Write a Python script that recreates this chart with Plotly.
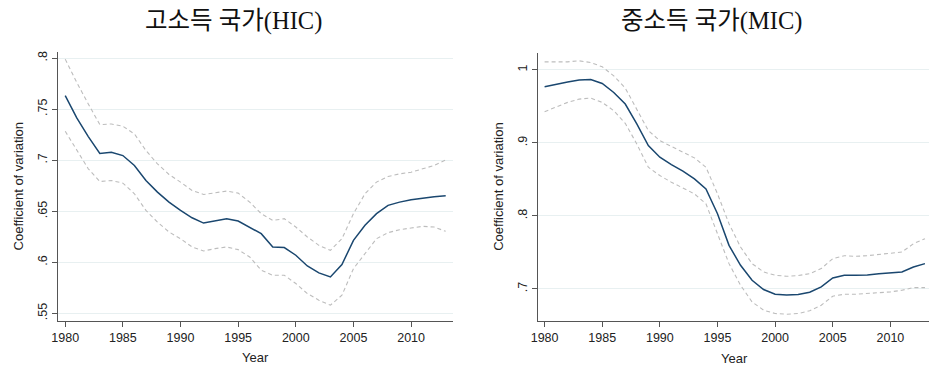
import plotly.graph_objects as go

W, H = 929, 367

years = list(range(1980, 2014))

# High-income countries: coefficient of variation with confidence band
hic_cv = [0.7632, 0.7414, 0.7232, 0.7066, 0.7079, 0.7046, 0.6949, 0.6802, 0.6688, 0.6590,
          0.6509, 0.6437, 0.6385, 0.6405, 0.6428, 0.6405, 0.6346, 0.6281, 0.6151, 0.6145,
          0.6070, 0.5965, 0.5897, 0.5858, 0.5979, 0.6216, 0.6363, 0.6477, 0.6558, 0.6590,
          0.6613, 0.6630, 0.6643, 0.6652]
hic_upper = [0.7990, 0.7762, 0.7551, 0.7349, 0.7355, 0.7333, 0.7258, 0.7095, 0.6965, 0.6861,
             0.6786, 0.6704, 0.6665, 0.6678, 0.6698, 0.6678, 0.6590, 0.6477, 0.6411, 0.6428,
             0.6346, 0.6249, 0.6167, 0.6118, 0.6232, 0.6477, 0.6672, 0.6786, 0.6841, 0.6867,
             0.6883, 0.6916, 0.6949, 0.7004]
hic_lower = [0.7284, 0.7095, 0.6916, 0.6792, 0.6802, 0.6776, 0.6672, 0.6509, 0.6395, 0.6298,
             0.6232, 0.6151, 0.6112, 0.6135, 0.6151, 0.6125, 0.6053, 0.5923, 0.5874, 0.5874,
             0.5793, 0.5695, 0.5630, 0.5581, 0.5679, 0.5939, 0.6086, 0.6232, 0.6291, 0.6320,
             0.6337, 0.6353, 0.6346, 0.6304]

# Middle-income countries
mic_cv = [0.9768, 0.9804, 0.9832, 0.9859, 0.9868, 0.9813, 0.9690, 0.9531, 0.9258, 0.8962,
          0.8803, 0.8703, 0.8612, 0.8507, 0.8370, 0.8029, 0.7596, 0.7323, 0.7118, 0.6991,
          0.6927, 0.6918, 0.6923, 0.6955, 0.7027, 0.7150, 0.7187, 0.7187, 0.7191, 0.7209,
          0.7219, 0.7232, 0.7300, 0.7346]
mic_upper = [1.0109, 1.0109, 1.0109, 1.0123, 1.0100, 1.0041, 0.9918, 0.9750, 0.9463, 0.9167,
             0.9030, 0.8948, 0.8871, 0.8794, 0.8666, 0.8302, 0.7892, 0.7574, 0.7346, 0.7232,
             0.7187, 0.7173, 0.7182, 0.7209, 0.7278, 0.7414, 0.7455, 0.7446, 0.7455, 0.7473,
             0.7483, 0.7505, 0.7619, 0.7687]
mic_lower = [0.9426, 0.9495, 0.9554, 0.9599, 0.9613, 0.9554, 0.9440, 0.9267, 0.8985, 0.8666,
             0.8552, 0.8461, 0.8384, 0.8302, 0.8165, 0.7756, 0.7346, 0.7050, 0.6822, 0.6709,
             0.6663, 0.6654, 0.6663, 0.6700, 0.6777, 0.6900, 0.6927, 0.6927, 0.6936, 0.6955,
             0.6959, 0.6982, 0.7018, 0.7018]

x_ticks = [1980, 1985, 1990, 1995, 2000, 2005, 2010]
hic_yticks = [0.55, 0.6, 0.65, 0.7, 0.75, 0.8]
hic_yticklabels = [".55", ".6", ".65", ".7", ".75", ".8"]
mic_yticks = [0.7, 0.8, 0.9, 1.0]
mic_yticklabels = [".7", ".8", ".9", "1"]

titles = ["고소득 국가(HIC)", "중소득 국가(MIC)"]

NAVY = "#1a476f"
CI_GREY = "#bdbdbd"
GRID = "#e8f0f1"
AXIS = "#555555"
FONT = "Liberation Sans, Arial, sans-serif"
TITLE_FONT = "Liberation Serif, Noto Sans CJK KR, serif"

fig = go.Figure()

panels = [
    ("x", "y", hic_cv, hic_upper, hic_lower),
    ("x2", "y2", mic_cv, mic_upper, mic_lower),
]
for xa, ya, cv, up, lo in panels:
    for band in (up, lo):
        fig.add_trace(go.Scatter(x=years, y=band, mode="lines", xaxis=xa, yaxis=ya,
                                 line=dict(color=CI_GREY, width=1.1, dash="4px,3px"),
                                 hoverinfo="skip", showlegend=False))
    fig.add_trace(go.Scatter(x=years, y=cv, mode="lines", xaxis=xa, yaxis=ya,
                             line=dict(color=NAVY, width=1.5),
                             showlegend=False))

# panel geometry in pixels
L_left, L_right, L_top, L_bot = 51.7, 449.0, 50.7, 320.7
R_left, R_right, R_top, R_bot = 534.7, 929.0, 51.7, 321.0

def xdom(a, b):
    return [a / W, b / W]

def ydom(top, bot):
    return [1 - bot / H, 1 - top / H]

common_x = dict(tickmode="array", tickvals=x_ticks, ticks="outside", ticklen=5,
                tickcolor=AXIS, showline=True, linecolor=AXIS, linewidth=1,
                showgrid=False, zeroline=False,
                tickfont=dict(family=FONT, size=12.5, color="#222222"))
common_y = dict(tickmode="array", ticks="outside", ticklen=5, tickcolor=AXIS,
                showline=True, linecolor=AXIS, linewidth=1,
                showgrid=True, gridcolor=GRID, gridwidth=1, zeroline=False,
                tickangle=-90,
                tickfont=dict(family=FONT, size=12.5, color="#222222"))

fig.update_layout(
    width=W, height=H,
    margin=dict(l=0, r=0, t=0, b=0),
    paper_bgcolor="white", plot_bgcolor="white",
    xaxis=dict(domain=xdom(L_left, L_right), range=[1979.4, 2013.6], anchor="y", **common_x),
    yaxis=dict(domain=ydom(L_top, L_bot), range=[0.5428, 0.8064], anchor="x",
               tickvals=hic_yticks, ticktext=hic_yticklabels, **common_y),
    xaxis2=dict(domain=xdom(R_left, R_right), range=[1979.4, 2013.35], anchor="y2", **common_x),
    yaxis2=dict(domain=ydom(R_top, R_bot), range=[0.6559, 1.0236], anchor="x2",
                tickvals=mic_yticks, ticktext=mic_yticklabels, **common_y),
)

def ann(text, xpx, ypx, size, family, angle=0, color="#222222"):
    fig.add_annotation(text=text, x=xpx / W, y=1 - ypx / H, xref="paper", yref="paper",
                       showarrow=False, textangle=angle, xanchor="center", yanchor="middle",
                       font=dict(family=family, size=size, color=color))

ann(titles[0], 228, 20, 24.5, TITLE_FONT, color="#111111")
ann(titles[1], 710, 20, 24.5, TITLE_FONT, color="#111111")
ann("Coefficient of variation", 12, 186, 13, FONT, angle=-90)
ann("Coefficient of variation", 495, 186, 13, FONT, angle=-90)
ann("Year", 250, 357, 13, FONT)
ann("Year", 733, 358, 13, FONT)

fig.write_html("out.html")
